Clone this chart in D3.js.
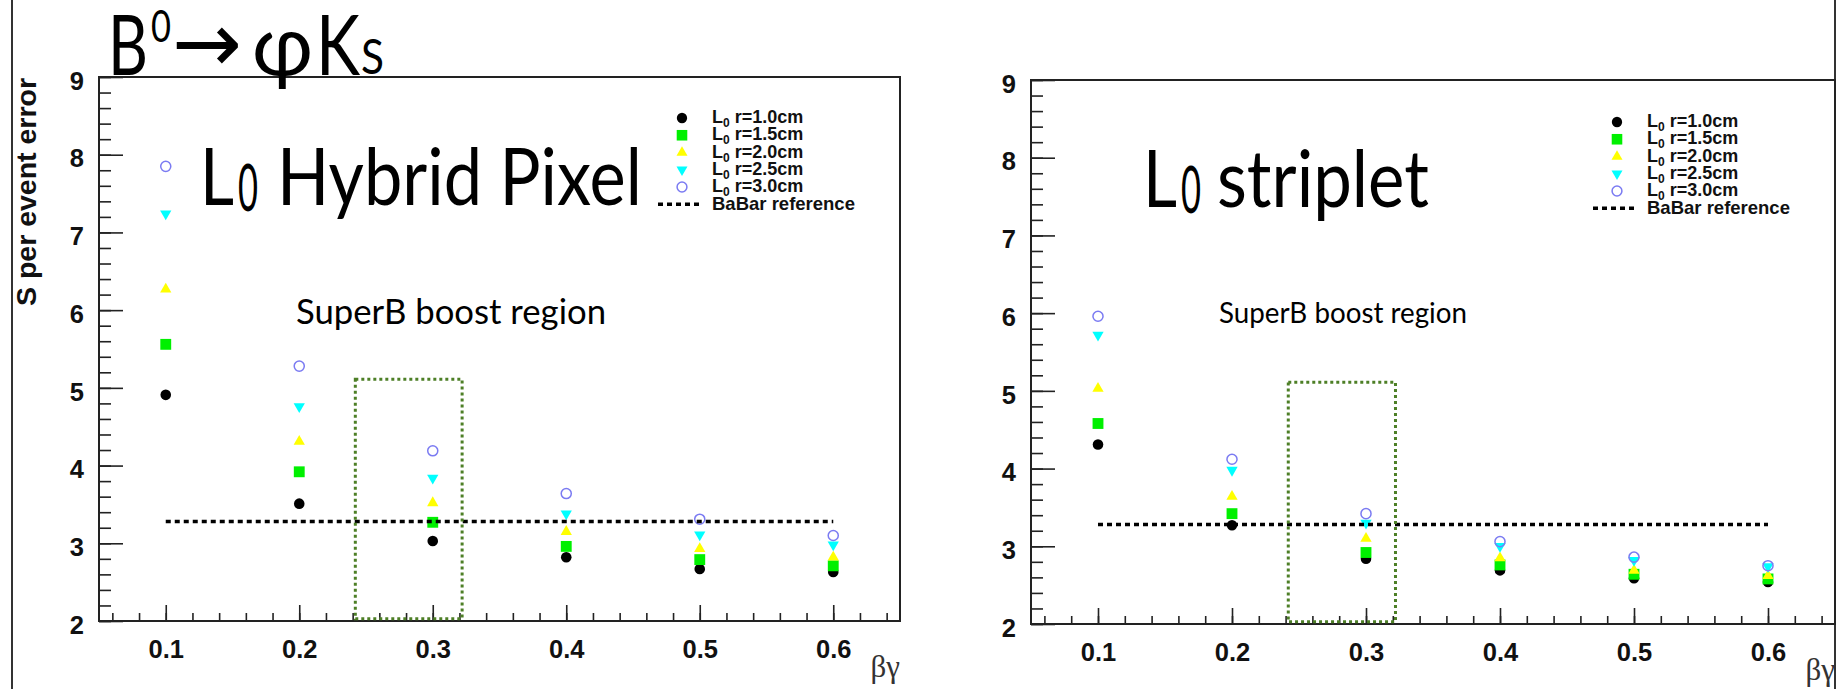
<!DOCTYPE html>
<html>
<head>
<meta charset="utf-8">
<script src="https://cdn.jsdelivr.net/npm/d3@7"></script>
<style>
  body { margin: 0; background: #fff; }
  svg { display: block; }
  .tick line { stroke: #222; stroke-width: 1.6; }
</style>
</head>
<body>
<script>
// beta*gamma points where the study was made
const betaGamma = [0.1, 0.2, 0.3, 0.4, 0.5, 0.6];
const radii = ["1.0", "1.5", "2.0", "2.5", "3.0"];

// L0 hybrid pixel: S per event error, one array per layer radius
const pixelR10 = [4.91, 3.51, 3.03, 2.82, 2.67, 2.63];
const pixelR15 = [5.56, 3.92, 3.27, 2.96, 2.79, 2.71];
const pixelR20 = [6.27, 4.31, 3.52, 3.15, 2.93, 2.82];
const pixelR25 = [7.24, 4.76, 3.84, 3.38, 3.11, 2.98];
const pixelR30 = [7.85, 5.28, 4.19, 3.64, 3.31, 3.10];

// L0 striplet
const stripR10 = [4.31, 3.27, 2.84, 2.69, 2.59, 2.54];
const stripR15 = [4.58, 3.42, 2.92, 2.76, 2.64, 2.58];
const stripR20 = [5.03, 3.64, 3.10, 2.85, 2.69, 2.62];
const stripR25 = [5.72, 3.98, 3.30, 3.00, 2.82, 2.74];
const stripR30 = [5.96, 4.12, 3.42, 3.06, 2.86, 2.75];

const babarRef = 3.28;
const babarRange = [0.1, 0.6];
const boostRegion = [0.242, 0.322];
const boostTop = 5.11;
const boostBottom = 2.03;

const xDomain = [0.05, 0.65];
const yDomain = [2, 9];
const xMajor = betaGamma;
const yMajor = [2, 3, 4, 5, 6, 7, 8, 9];

const styles = [
  { type: d3.symbolCircle, size: 88, fill: "#000", stroke: "none", rot: 0 },
  { type: d3.symbolSquare, size: 118, fill: "#00f000", stroke: "none", rot: 0 },
  { type: d3.symbolTriangle, size: 55, fill: "#ffff00", stroke: "none", rot: 0 },
  { type: d3.symbolTriangle, size: 55, fill: "#00ffff", stroke: "none", rot: 180 },
  { type: d3.symbolCircle, size: 80, fill: "none", stroke: "#7b7bf2", rot: 0 }
];

const sans = "'Liberation Sans', Arial, sans-serif";
const gill = "Lato, 'Open Sans', sans-serif";

const svg = d3.select("body").append("svg")
  .attr("width", 1843)
  .attr("height", 689);

svg.append("rect").attr("width", 1843).attr("height", 689).attr("fill", "#fff");

// outer border lines of the slide
svg.append("line").attr("x1", 12).attr("x2", 12).attr("y1", 0).attr("y2", 689)
  .attr("stroke", "#333").attr("stroke-width", 2);
svg.append("line").attr("x1", 1835).attr("x2", 1835).attr("y1", 0).attr("y2", 689)
  .attr("stroke", "#333").attr("stroke-width", 2);

function bigText(g, str, x, y, size, len) {
  const t = g.append("text")
    .attr("x", x).attr("y", y)
    .attr("font-family", gill)
    .attr("font-size", size)
    .attr("fill", "#000")
    .text(str);
  if (len) t.attr("textLength", len).attr("lengthAdjust", "spacingAndGlyphs");
  return t;
}

function tickFont(a) {
  a.selectAll("text")
    .attr("font-family", sans)
    .attr("font-weight", "bold")
    .attr("font-size", 25.5)
    .attr("fill", "#111");
}

function drawPanel(p) {
  const g = svg.append("g");
  const x = d3.scaleLinear().domain(xDomain).range([p.left, p.right]);
  const y = d3.scaleLinear().domain(yDomain).range([p.bottom, p.top]);

  // minor ticks
  const yMinor = d3.range(10, 46).map(i => +(i * 0.2).toFixed(1));
  const xMinor = d3.range(3, 33).map(i => +(i * 0.02).toFixed(2));

  g.append("g").attr("transform", `translate(${p.left},0)`)
    .call(d3.axisLeft(y).tickValues(yMinor).tickSize(-12).tickFormat(""))
    .call(a => a.select(".domain").remove());
  g.append("g").attr("transform", `translate(${p.left},0)`)
    .call(d3.axisLeft(y).tickValues(yMajor).tickSize(-24).tickPadding(15).tickFormat(d3.format("d")))
    .call(a => a.select(".domain").remove())
    .call(tickFont)
    .call(a => a.selectAll("text").attr("dy", "0.48em"));

  g.append("g").attr("transform", `translate(0,${p.bottom})`)
    .call(d3.axisBottom(x).tickValues(xMinor).tickSize(-8).tickFormat(""))
    .call(a => a.select(".domain").remove());
  g.append("g").attr("transform", `translate(0,${p.bottom})`)
    .call(d3.axisBottom(x).tickValues(xMajor).tickSize(-16).tickPadding(19).tickFormat(d3.format(".1f")))
    .call(a => a.select(".domain").remove())
    .call(tickFont);

  // frame
  g.append("rect")
    .attr("x", p.left).attr("y", p.top)
    .attr("width", p.right - p.left).attr("height", p.bottom - p.top)
    .attr("fill", "none").attr("stroke", "#222").attr("stroke-width", 2);

  // markers
  p.series.forEach((vals, si) => {
    const s = styles[si];
    const sym = d3.symbol().type(s.type).size(s.size);
    g.append("g").selectAll("path")
      .data(betaGamma.map((b, i) => ({ b, v: vals[i] })))
      .join("path")
      .attr("transform", d => `translate(${x(d.b)},${y(d.v)}) rotate(${s.rot})`)
      .attr("d", sym)
      .attr("fill", s.fill)
      .attr("stroke", s.stroke)
      .attr("stroke-width", 1.5);
  });

  // BaBar reference
  g.append("line")
    .attr("x1", x(babarRange[0])).attr("x2", x(babarRange[1]))
    .attr("y1", y(babarRef)).attr("y2", y(babarRef))
    .attr("stroke", "#000").attr("stroke-width", 3.5)
    .attr("stroke-dasharray", "5,4");

  // boost region box
  g.append("rect")
    .attr("x", x(boostRegion[0])).attr("y", y(boostTop))
    .attr("width", x(boostRegion[1]) - x(boostRegion[0]))
    .attr("height", y(boostBottom) - y(boostTop))
    .attr("fill", "none").attr("stroke", "#4d7f26").attr("stroke-width", 3)
    .attr("stroke-dasharray", "3,3");

  // legend
  const lg = g.append("g");
  const rowY = i => p.top + p.legTop + i * 17.25;
  radii.forEach((r, i) => {
    const s = styles[i];
    lg.append("path")
      .attr("transform", `translate(${p.right - 218},${rowY(i)}) rotate(${s.rot})`)
      .attr("d", d3.symbol().type(s.type).size(s.size * 0.95)())
      .attr("fill", s.fill).attr("stroke", s.stroke).attr("stroke-width", 1.5);
    const t = lg.append("text")
      .attr("x", p.right - 188).attr("y", rowY(i) + 5)
      .attr("font-family", sans).attr("font-weight", "bold").attr("font-size", 18)
      .attr("fill", "#111");
    t.append("tspan").text("L");
    t.append("tspan").attr("font-size", 12).attr("dy", 4).text("0");
    t.append("tspan").attr("dy", -4).text(` r=${r}cm`);
  });
  lg.append("line")
    .attr("x1", p.right - 242).attr("x2", p.right - 201)
    .attr("y1", rowY(5)).attr("y2", rowY(5))
    .attr("stroke", "#000").attr("stroke-width", 3.5).attr("stroke-dasharray", "5,4");
  lg.append("text")
    .attr("x", p.right - 188).attr("y", rowY(5) + 6)
    .attr("font-family", sans).attr("font-weight", "bold").attr("font-size", 18.5)
    .attr("fill", "#111")
    .text("BaBar reference");

  // x axis title
  g.append("text")
    .attr("x", p.right).attr("y", p.bottom + 56)
    .attr("text-anchor", "end")
    .attr("font-family", "'Liberation Serif', 'DejaVu Serif', serif")
    .attr("font-size", 31).attr("fill", "#333")
    .text("βγ");

  // big annotations
  bigText(g, "L", p.bigX, p.bigY, 80, 34);
  bigText(g, "0", p.bigX + 38, p.bigY + 6, 66, 20);
  bigText(g, p.name, p.nameX, p.bigY, 80, p.nameLen);
  bigText(g, "SuperB boost region", p.boostX, p.boostY, p.boostSize, p.boostLen);

  return g;
}

drawPanel({
  left: 99, right: 900, top: 77, bottom: 621,
  series: [pixelR10, pixelR15, pixelR20, pixelR25, pixelR30],
  legTop: 41,
  bigX: 200, bigY: 205, nameX: 277, name: "Hybrid Pixel", nameLen: 365,
  boostX: 296, boostY: 324, boostSize: 34, boostLen: 310
});

drawPanel({
  left: 1031, right: 1835, top: 80, bottom: 624,
  series: [stripR10, stripR15, stripR20, stripR25, stripR30],
  legTop: 42,
  bigX: 1143, bigY: 207, nameX: 1217, name: "striplet", nameLen: 212,
  boostX: 1219, boostY: 323, boostSize: 28, boostLen: 248
});

// y axis title (left panel only)
svg.append("text")
  .attr("transform", "translate(36,192) rotate(-90)")
  .attr("text-anchor", "middle")
  .attr("font-family", sans).attr("font-weight", "bold").attr("font-size", 28.5)
  .attr("fill", "#111")
  .text("S per event error");

// decay title B0 -> phi K_S
const title = svg.append("g");
bigText(title, "B", 108, 75, 84, 40);
bigText(title, "0", 151, 42, 44, 20);
title.append("text")
  .attr("x", 172).attr("y", 72)
  .attr("font-family", "'DejaVu Sans', sans-serif")
  .attr("font-size", 84)
  .attr("textLength", 70).attr("lengthAdjust", "spacingAndGlyphs")
  .text("→");
bigText(title, "φ", 252, 75, 84, 61);
bigText(title, "K", 316, 75, 84, 44);
bigText(title, "S", 361, 74, 48, 23);
</script>
</body>
</html>
